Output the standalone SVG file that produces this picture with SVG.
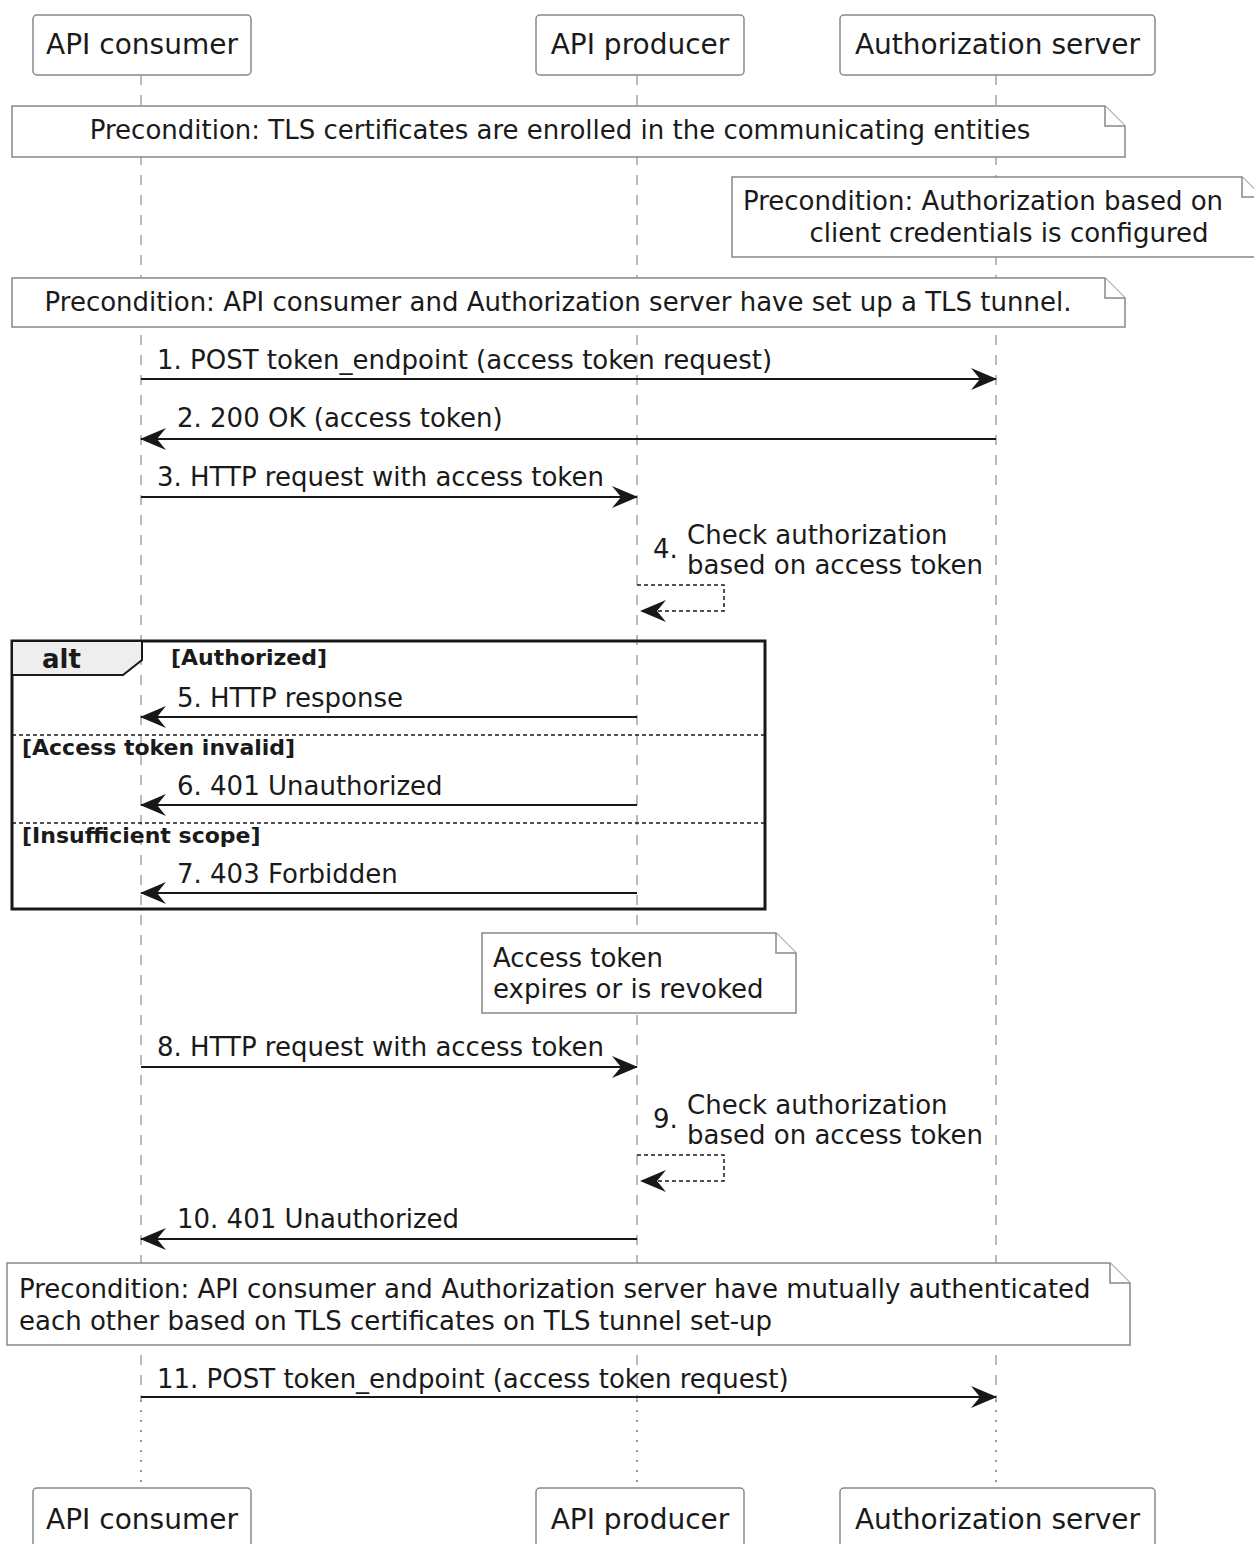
<svg xmlns="http://www.w3.org/2000/svg" width="1254" height="1544" viewBox="0 0 1254 1544">
<defs>
<style>
text{font-family:"DejaVu Sans","Liberation Sans",sans-serif;fill:#1a1a1a;}
.p{font-size:28px;}
.m{font-size:26px;}
.n{font-size:26px;}
.g{font-size:22px;font-weight:bold;}
.alt{font-size:26px;font-weight:bold;}
.box{fill:#fff;stroke:#888;stroke-width:1.5;}
.note{fill:#fff;stroke:#888;stroke-width:1.5;}
.life{stroke:#777;stroke-width:1;stroke-dasharray:10,10;fill:none;}
.lifedot{stroke:#777;stroke-width:1.5;stroke-dasharray:2,8;fill:none;}
.msg{stroke:#181818;stroke-width:2;fill:none;}
.self{stroke:#181818;stroke-width:1.5;fill:none;stroke-dasharray:4,3;}
.frame{fill:none;stroke:#181818;stroke-width:3;}
.sep{stroke:#181818;stroke-width:1.5;stroke-dasharray:4,3;}
</style>
<marker id="ah" viewBox="0 0 26 22" refX="25" refY="11" markerWidth="26" markerHeight="22" markerUnits="userSpaceOnUse" orient="auto">
<polygon points="0,0 26,11 0,22 9,11" fill="#181818"/>
</marker>
</defs>

<g id="lifelines">
<line class="life" x1="141" y1="75" x2="141" y2="1400"/>
<line class="life" x1="637" y1="75" x2="637" y2="1400"/>
<line class="life" x1="996" y1="75" x2="996" y2="1400"/>
<line class="lifedot" x1="141" y1="1400" x2="141" y2="1486"/>
<line class="lifedot" x1="637" y1="1400" x2="637" y2="1486"/>
<line class="lifedot" x1="996" y1="1400" x2="996" y2="1486"/>
</g>

<g id="consumer-top"><rect class="box" x="33" y="15" width="218" height="60" rx="4"/><text class="p" x="142" y="54" text-anchor="middle">API consumer</text></g>
<g id="producer-top"><rect class="box" x="536" y="15" width="208" height="60" rx="4"/><text class="p" x="640" y="54" text-anchor="middle">API producer</text></g>
<g id="authserver-top"><rect class="box" x="840" y="15" width="315" height="60" rx="4"/><text class="p" x="997.5" y="54" text-anchor="middle">Authorization server</text></g>

<g id="consumer-bottom"><rect class="box" x="33" y="1488" width="218" height="62" rx="4"/><text class="p" x="142" y="1529" text-anchor="middle">API consumer</text></g>
<g id="producer-bottom"><rect class="box" x="536" y="1488" width="208" height="62" rx="4"/><text class="p" x="640" y="1529" text-anchor="middle">API producer</text></g>
<g id="authserver-bottom"><rect class="box" x="840" y="1488" width="315" height="62" rx="4"/><text class="p" x="997.5" y="1529" text-anchor="middle">Authorization server</text></g>

<g id="note1">
<path class="note" d="M12,106 H1105 L1125,126 V157 H12 Z"/>
<path class="note" d="M1105,106 V126 H1125" fill="none"/>
<text class="n" x="560" y="139" text-anchor="middle">Precondition: TLS certificates are enrolled in the communicating entities</text>
</g>

<g id="note2">
<path class="note" d="M732,177 H1242 L1262,197 V257 H732 Z"/>
<path class="note" d="M1242,177 V197 H1262" fill="none"/>
<text class="n" x="983" y="210" text-anchor="middle">Precondition: Authorization based on</text>
<text class="n" x="1009" y="242" text-anchor="middle">client credentials is configured</text>
</g>

<g id="note3">
<path class="note" d="M12,278 H1105 L1125,298 V327 H12 Z"/>
<path class="note" d="M1105,278 V298 H1125" fill="none"/>
<text class="n" x="558" y="311" text-anchor="middle">Precondition: API consumer and Authorization server have set up a TLS tunnel.</text>
</g>

<g id="alt-frame">
<rect class="frame" x="12" y="641" width="753" height="268"/>
<path d="M12,641 H142 V660 L123,675 H12 Z" fill="#eee" stroke="#181818" stroke-width="2"/>
<text class="alt" x="42" y="668">alt</text>
<text class="g" x="171" y="665">[Authorized]</text>
<line class="sep" x1="12" y1="735" x2="765" y2="735"/>
<text class="g" x="22" y="755">[Access token invalid]</text>
<line class="sep" x1="12" y1="823" x2="765" y2="823"/>
<text class="g" x="22" y="843">[Insufficient scope]</text>
</g>

<g id="note4">
<path class="note" d="M482,933 H776 L796,953 V1013 H482 Z"/>
<path class="note" d="M776,933 V953 H796" fill="none"/>
<text class="n" x="493" y="967">Access token</text>
<text class="n" x="493" y="998">expires or is revoked</text>
</g>

<g id="note5">
<path class="note" d="M7,1263 H1110 L1130,1283 V1345 H7 Z"/>
<path class="note" d="M1110,1263 V1283 H1130" fill="none"/>
<text class="n" x="19" y="1298">Precondition: API consumer and Authorization server have mutually authenticated</text>
<text class="n" x="19" y="1330">each other based on TLS certificates on TLS tunnel set-up</text>
</g>

<g id="connectors">
<line class="msg" x1="141" y1="379" x2="996" y2="379" marker-end="url(#ah)"/>
<text class="m" x="157" y="369">1. POST token_endpoint (access token request)</text>

<line class="msg" x1="996" y1="439" x2="141" y2="439" marker-end="url(#ah)"/>
<text class="m" x="177" y="427">2. 200 OK (access token)</text>

<line class="msg" x1="141" y1="497" x2="637" y2="497" marker-end="url(#ah)"/>
<text class="m" x="157" y="486">3. HTTP request with access token</text>

<polyline class="self" points="637,585 724,585 724,611 641,611" marker-end="url(#ah)"/>
<text class="m" x="653" y="558">4.</text>
<text class="m" x="687" y="544">Check authorization</text>
<text class="m" x="687" y="574">based on access token</text>

<line class="msg" x1="637" y1="717" x2="141" y2="717" marker-end="url(#ah)"/>
<text class="m" x="177" y="707">5. HTTP response</text>

<line class="msg" x1="637" y1="805" x2="141" y2="805" marker-end="url(#ah)"/>
<text class="m" x="177" y="795">6. 401 Unauthorized</text>

<line class="msg" x1="637" y1="893" x2="141" y2="893" marker-end="url(#ah)"/>
<text class="m" x="177" y="883">7. 403 Forbidden</text>

<line class="msg" x1="141" y1="1067" x2="637" y2="1067" marker-end="url(#ah)"/>
<text class="m" x="157" y="1056">8. HTTP request with access token</text>

<polyline class="self" points="637,1155 724,1155 724,1181 641,1181" marker-end="url(#ah)"/>
<text class="m" x="653" y="1128">9.</text>
<text class="m" x="687" y="1114">Check authorization</text>
<text class="m" x="687" y="1144">based on access token</text>

<line class="msg" x1="637" y1="1239" x2="141" y2="1239" marker-end="url(#ah)"/>
<text class="m" x="177" y="1228">10. 401 Unauthorized</text>

<line class="msg" x1="141" y1="1397" x2="996" y2="1397" marker-end="url(#ah)"/>
<text class="m" x="157" y="1388">11. POST token_endpoint (access token request)</text>
</g>
</svg>
